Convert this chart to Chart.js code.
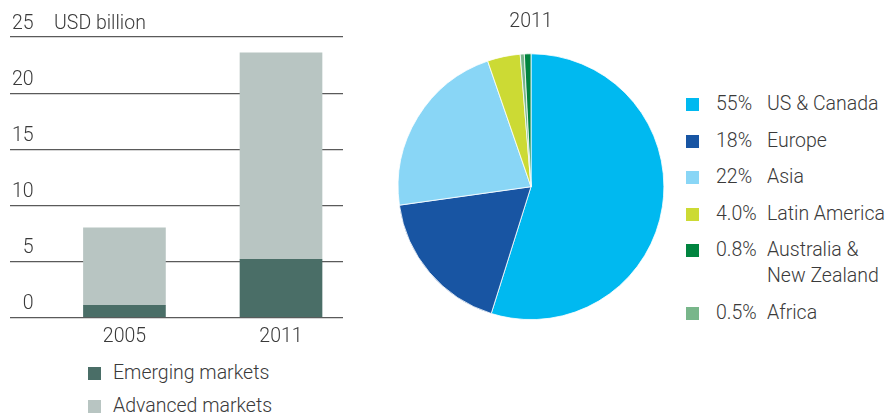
<!DOCTYPE html>
<html>
<head>
<meta charset="utf-8">
<script src="https://cdn.jsdelivr.net/npm/chart.js@4.4.0/dist/chart.umd.min.js"></script>
<style>
body { margin: 0; width: 890px; height: 414px; overflow: hidden; background: #fff;
       font-family: Roboto, "Liberation Sans", sans-serif; font-weight: 300; color: #3a3a3a; }
#barBox { position: absolute; left: 0; top: 0; width: 350px; height: 361px; }
#pieBox { position: absolute; left: 381px; top: 0; width: 300px; height: 340px; }
#barLegend { position: absolute; left: 88px; top: 363px; font-size: 19.5px; }
#barLegend .row { position: relative; height: 20px; line-height: 20px; margin-bottom: 13px; padding-left: 25px; white-space: nowrap; }
#barLegend .sq { position: absolute; left: 0; top: 4px; width: 13px; height: 13px; }
#pieLegend { position: absolute; left: 686px; top: 91px; font-size: 19.5px; }
#pieLegend .row { position: relative; line-height: 26px; margin-bottom: 10.5px; white-space: pre-line; }
#pieLegend .sq { position: absolute; left: 0; top: 7px; width: 13px; height: 13px; }
#pieLegend .pct { position: absolute; left: 30px; top: 0; }
#pieLegend .name { margin-left: 81px; display: block; }
</style>
</head>
<body>
<div id="barBox"><canvas id="barChart"></canvas></div>
<div id="barLegend"></div>
<div id="pieBox"><canvas id="pieChart"></canvas></div>
<div id="pieLegend"></div>
<script>
// bar chart: USD billion
const years = ['2005', '2011'];
const emerging = [1.1, 5.2];
const advanced = [6.9, 18.4];
const barSeries = ['Emerging markets', 'Advanced markets'];
const barColors = ['#4a6e67', '#b8c5c2'];

// pie chart: 2011 shares, clockwise from the top
const regions = ['US & Canada', 'Europe', 'Asia', 'Latin America', 'Africa', 'Australia &\nNew Zealand'];
const shares = [55, 18, 22, 4.0, 0.5, 0.8];
const shareLabels = ['55%', '18%', '22%', '4.0%', '0.5%', '0.8%'];
const pieColors = ['#00b9f0', '#1855a3', '#89d6f6', '#ccda34', '#78b68a', '#00843f'];
const legendOrder = [0, 1, 2, 3, 5, 4];

Chart.defaults.font.family = "Roboto, 'Liberation Sans', sans-serif";
Chart.defaults.font.weight = '300';
Chart.defaults.color = '#3a3a3a';

const unitLabel = {
    id: 'unitLabel',
    afterDraw(chart) {
        const y = chart.scales.y.getPixelForValue(25) - 13;
        const ctx = chart.ctx;
        ctx.save();
        ctx.font = '300 19.5px Roboto, "Liberation Sans", sans-serif';
        ctx.fillStyle = '#3a3a3a';
        ctx.textBaseline = 'middle';
        ctx.fillText('USD billion', chart.chartArea.left + 44, y);
        ctx.restore();
    }
};

new Chart(document.getElementById('barChart'), {
    type: 'bar',
    data: {
        datasets: [
            { label: barSeries[0], data: emerging.map((v, i) => ({ x: i, y: v })), backgroundColor: barColors[0] },
            { label: barSeries[1], data: advanced.map((v, i) => ({ x: i, y: v })), backgroundColor: barColors[1] }
        ]
    },
    options: {
        responsive: true,
        maintainAspectRatio: false,
        animation: false,
        layout: { padding: { left: 6, right: 7, top: 37, bottom: 4 } },
        datasets: { bar: { barThickness: 82 } },
        plugins: { legend: { display: false }, tooltip: { enabled: false } },
        scales: {
            x: {
                type: 'linear',
                stacked: true,
                offset: false,
                min: -0.731,
                max: 1.396,
                afterBuildTicks: (scale) => { scale.ticks = years.map((_, i) => ({ value: i })); },
                ticks: { callback: (v) => years[v], font: { size: 19.5 }, padding: 8, maxRotation: 0 },
                grid: { display: false, drawTicks: false },
                border: { display: false }
            },
            y: {
                stacked: true,
                min: 0,
                max: 25,
                ticks: { stepSize: 5, mirror: true, crossAlign: 'far', padding: 2, labelOffset: -13, font: { size: 19.5 } },
                grid: { color: '#5a5a5a', lineWidth: 1.2, drawTicks: false },
                border: { display: false }
            }
        }
    },
    plugins: [unitLabel]
});

const barLegend = document.getElementById('barLegend');
barSeries.forEach((name, i) => {
    const row = document.createElement('div');
    row.className = 'row';
    row.innerHTML = '<span class="sq" style="background:' + barColors[i] + '"></span>' + name;
    barLegend.appendChild(row);
});

new Chart(document.getElementById('pieChart'), {
    type: 'pie',
    data: {
        labels: regions,
        datasets: [{ data: shares, backgroundColor: pieColors, borderColor: '#ffffff', borderWidth: 0.8 }]
    },
    options: {
        responsive: true,
        maintainAspectRatio: false,
        animation: false,
        layout: { padding: { bottom: 20 } },
        plugins: {
            legend: { display: false },
            tooltip: { enabled: false },
            title: { display: true, text: '2011', font: { size: 19.5, weight: '300' }, color: '#3a3a3a', padding: { top: 10, bottom: 20 } }
        }
    }
});

const pieLegend = document.getElementById('pieLegend');
legendOrder.forEach((i) => {
    const row = document.createElement('div');
    row.className = 'row';
    row.innerHTML = '<span class="sq" style="background:' + pieColors[i] + '"></span>' +
        '<span class="pct">' + shareLabels[i] + '</span><span class="name">' + regions[i] + '</span>';
    pieLegend.appendChild(row);
});
</script>
</body>
</html>
